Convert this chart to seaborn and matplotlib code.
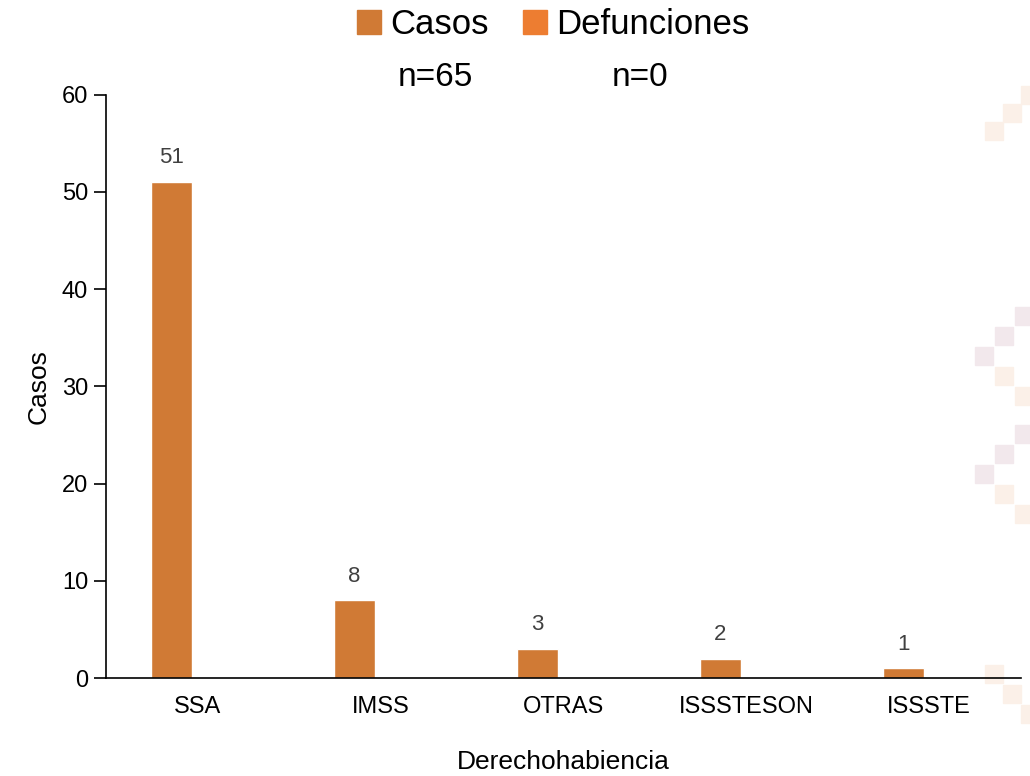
import matplotlib
matplotlib.use("Agg")
import matplotlib.pyplot as plt
from matplotlib.patches import Rectangle
import pandas as pd
import seaborn as sns

# chart data
categorias = ['SSA', 'IMSS', 'OTRAS', 'ISSSTESON', 'ISSSTE']
casos = [51, 8, 3, 2, 1]
defunciones = [0, 0, 0, 0, 0]
series = ['Casos', 'Defunciones']
totales = ['n=65', 'n=0']
y_ticks = [0, 10, 20, 30, 40, 50, 60]

colores = {'Casos': '#D07A35', 'Defunciones': '#ED7D31'}

df = pd.DataFrame({
    'Derechohabiencia': categorias * 2,
    'valor': casos + defunciones,
    'serie': ['Casos'] * len(categorias) + ['Defunciones'] * len(categorias),
})

sns.set_style('white')
plt.rcParams['font.family'] = ['Liberation Sans', 'DejaVu Sans']
plt.rcParams['text.color'] = 'black'
plt.rcParams['axes.labelcolor'] = 'black'
plt.rcParams['xtick.color'] = 'black'
plt.rcParams['ytick.color'] = 'black'

fig = plt.figure(figsize=(10.3, 7.76), dpi=100)
ax = fig.add_axes([0.103, 0.126, 0.888, 0.752])

# faint decorative squares on the right edge (background motif)
beige, lav = '#FBF0E8', '#F2E8EC'
W, H = 1030, 776
squares = [
    (985, 122, beige), (1003, 104, beige), (1021, 86, beige),
    (1015, 307, lav), (995, 327, lav), (975, 347, lav), (995, 367, beige), (1015, 387, beige),
    (1015, 425, lav), (995, 445, lav), (975, 465, lav), (995, 485, beige), (1015, 505, beige),
    (985, 665, beige), (1003, 685, beige), (1021, 705, beige),
]
for x, y, c in squares:
    fig.patches.append(Rectangle((x / W, 1 - (y + 18) / H), 18 / W, 18 / H,
                                 transform=fig.transFigure, color=c, zorder=-10))
ax.patch.set_alpha(0)

sns.barplot(data=df, x='Derechohabiencia', y='valor', hue='serie',
            palette=colores, width=0.57, gap=0.21, ax=ax, legend=False,
            saturation=1)

# data labels only for Casos
ax.bar_label(ax.containers[0], labels=[str(v) for v in casos], padding=10,
             fontsize=16, color='#404040')

ax.set_ylim(0, 60)
ax.set_yticks(y_ticks)
ax.set_xlim(-0.5, len(categorias) - 0.5)
ax.set_xticks(range(len(categorias)))
ax.set_xticklabels(categorias)
ax.set_xticks([i - 0.5 for i in range(len(categorias) + 1)], minor=True)
ax.tick_params(axis='x', which='major', length=0, labelsize=17, pad=13)
ax.tick_params(axis='x', which='minor', length=9, width=1.2, color='black', direction='out')
ax.tick_params(axis='y', length=9, width=1.2, color='black', direction='out', labelsize=17, pad=4)
ax.tick_params(axis='y', left=True)

sns.despine(ax=ax)
for s in ['left', 'bottom']:
    ax.spines[s].set_color('black')
    ax.spines[s].set_linewidth(1.2)

ax.set_ylabel('Casos', fontsize=19, labelpad=8)
ax.set_xlabel('Derechohabiencia', fontsize=19, va='center')
ax.xaxis.set_label_coords(0.5, -0.144)

handles = [Rectangle((0, 0), 1, 1, color=colores[s]) for s in series]
fig.legend(handles, series, loc='upper center', bbox_to_anchor=(0.537, 1.03), ncol=2,
           frameon=False, fontsize=25, handlelength=0.7, handleheight=0.7,
           handletextpad=0.25, columnspacing=1.0)

fig.text(0.423, 0.9, totales[0], ha='center', va='center', fontsize=24)
fig.text(0.621, 0.9, totales[1], ha='center', va='center', fontsize=24)

fig.savefig('out.png', dpi=100)
